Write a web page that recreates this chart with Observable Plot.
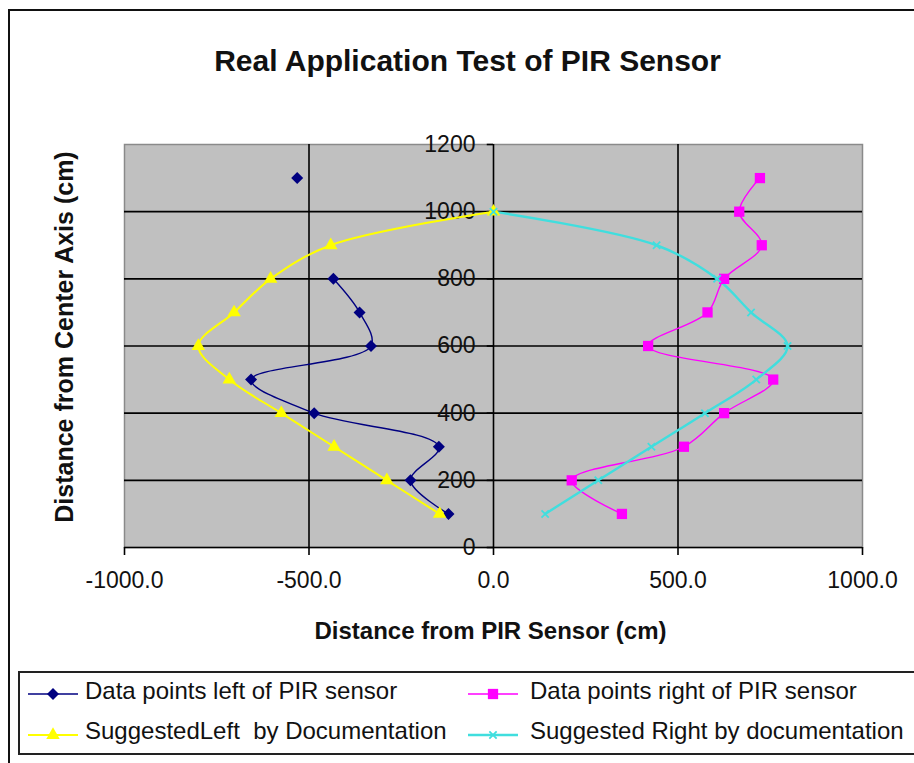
<!DOCTYPE html>
<html><head><meta charset="utf-8">
<script src="https://cdn.jsdelivr.net/npm/d3@7"></script>
<script src="https://cdn.jsdelivr.net/npm/@observablehq/plot@0.6"></script>
<style>
html,body{margin:0;padding:0;background:#fff;}
#wrap{position:relative;width:914px;height:763px;overflow:hidden;font-family:"Liberation Sans",Arial,sans-serif;}
#outer{position:absolute;left:8px;top:9px;width:940px;height:800px;border-left:2px solid #111;border-top:2px solid #111;box-sizing:border-box;}
#chart{position:absolute;left:0;top:0;}
#legend{position:absolute;left:18px;top:671px;width:940px;height:84px;border:2px solid #222;box-sizing:border-box;background:#fff;}
.lbl{position:absolute;font-size:24px;line-height:24px;color:#111;white-space:pre;}
.sw{position:absolute;overflow:visible;}
</style></head>
<body><div id="wrap"><div id="outer"></div><div id="chart"></div><div id="legend"></div></div>
<script>
const titleText = "Real Application Test of PIR Sensor";
const xTitle = "Distance from PIR Sensor (cm)";
const yTitle = "Distance from Center Axis (cm)";
const xTicks = [-1000, -500, 0, 500, 1000];
const yTicks = [0, 200, 400, 600, 800, 1000, 1200];
const xGrid = [-500, 500];
const yGrid = [200, 400, 600, 800, 1000];

const dataY = [1100, 1000, 900, 800, 700, 600, 500, 400, 300, 200, 100];
const leftPoints = [-532, null, null, -434, -363, -332, -657, -486, -148, -225, -122];
const rightPoints = [722, 666, 727, 625, 580, 419, 758, 625, 516, 212, 348];
const suggestedY = [1000, 900, 800, 700, 600, 500, 400, 300, 200, 100];
const suggestedLeft = [0, -441, -604, -703, -800, -716, -575, -432, -289, -146];
const suggestedRight = [0, 442, 606, 698, 797, 712, 573, 428, 284, 140];

const seriesNames = ["Data points left of PIR sensor", "Data points right of PIR sensor",
  "SuggestedLeft  by Documentation", "Suggested Right by documentation"];
const seriesColors = ["#000080", "#ff00ff", "#ffff00", "#40dede"];
const seriesSymbols = ["diamond2", "square", "triangle", "times"];

const toRows = (ys, xs) => ys.map((y, i) => ({y, x: xs[i]}));
const series = [
  {rows: toRows(dataY, leftPoints), lw: 1.4, r: 5.4},
  {rows: toRows(dataY, rightPoints), lw: 1.4, r: 5.8},
  {rows: toRows(suggestedY, suggestedLeft), lw: 2, r: 5.0},
  {rows: toRows(suggestedY, suggestedRight), lw: 2.4, r: 3.4}
];

const lineMarks = series.map((s, i) => Plot.line(s.rows, {
  x: d => d.x ?? NaN, y: "y", curve: "catmull-rom",
  stroke: seriesColors[i], strokeWidth: s.lw
}));
const dotMarks = series.map((s, i) => {
  const sym = seriesSymbols[i];
  const opts = {x: "x", y: "y", symbol: () => sym, r: s.r};
  if (sym === "times") { opts.stroke = seriesColors[i]; opts.strokeWidth = 1.8; opts.fill = "none"; }
  else { opts.fill = seriesColors[i]; opts.stroke = "none"; }
  return Plot.dot(s.rows.filter(d => d.x != null), opts);
});

const chart = Plot.plot({
  width: 914, height: 660,
  marginTop: 144, marginBottom: 113, marginLeft: 124, marginRight: 52,
  x: {domain: [-1000, 1000]},
  y: {domain: [0, 1200], axis: null},
  symbol: {type: "identity"},
  style: {fontFamily: "'Liberation Sans', Arial, sans-serif", color: "#111", background: "transparent", overflow: "visible"},
  marks: [
    Plot.frame({fill: "#c0c0c0", stroke: "#8a8a8a", strokeWidth: 1.5}),
    Plot.ruleY(yGrid, {stroke: "#000", strokeWidth: 1.6}),
    Plot.ruleX(xGrid, {stroke: "#000", strokeWidth: 1.6}),
    Plot.ruleX([0], {stroke: "#000", strokeWidth: 1.6}),
    Plot.ruleY([0], {stroke: "#000", strokeWidth: 1.6}),
    Plot.ruleY(yTicks, {x1: () => 0, x2: () => -17, stroke: "#000", strokeWidth: 1.6}),
    Plot.text(yTicks, {x: () => 0, y: d => d, text: d => String(d), dx: -18, textAnchor: "end", fontSize: 23, fill: "#111"}),
    Plot.axisX(xTicks, {anchor: "bottom", tickSize: 8, tickPadding: 16, tickFormat: d => d.toFixed(1), fontSize: 23, stroke: "#000", strokeWidth: 1.6, fill: "#111", label: null}),
    ...lineMarks,
    ...dotMarks,
    Plot.text([titleText], {frameAnchor: "top", dx: -26, dy: -74, lineAnchor: "bottom", textAnchor: "middle", fontSize: 30, fontWeight: "bold", fill: "#111"}),
    Plot.text([xTitle], {frameAnchor: "bottom", dx: -3, dy: 91, lineAnchor: "bottom", textAnchor: "middle", fontSize: 24, fontWeight: "bold", fill: "#111"}),
    Plot.text([yTitle], {frameAnchor: "left", dx: -52, dy: -9, rotate: -90, lineAnchor: "bottom", textAnchor: "middle", fontSize: 25, fontWeight: "bold", fill: "#111"})
  ]
});
document.getElementById("chart").appendChild(chart);

// Legend
const legend = d3.select("#legend");
const pos = [
  {sx: 8, tx: 65, ly: 21, ty: 6},
  {sx: 448, tx: 510, ly: 21, ty: 6},
  {sx: 8, tx: 65, ly: 62, ty: 46},
  {sx: 448, tx: 510, ly: 62, ty: 46}
];
const symMap = {diamond2: d3.symbolDiamond2, square: d3.symbolSquare, triangle: d3.symbolTriangle, times: d3.symbolTimes};
seriesNames.forEach((name, i) => {
  const p = pos[i];
  const svg = legend.append("svg").attr("class", "sw")
    .style("left", p.sx + "px").style("top", (p.ly - 10) + "px")
    .attr("width", 52).attr("height", 20);
  svg.append("line").attr("x1", 0).attr("x2", 50).attr("y1", 10).attr("y2", 10)
    .attr("stroke", seriesColors[i]).attr("stroke-width", series[i].lw);
  const r = series[i].r;
  const path = svg.append("path").attr("transform", "translate(25,10)")
    .attr("d", d3.symbol(symMap[seriesSymbols[i]], Math.PI * r * r)());
  if (seriesSymbols[i] === "times") path.attr("fill", "none").attr("stroke", seriesColors[i]).attr("stroke-width", 1.8);
  else path.attr("fill", seriesColors[i]);
  legend.append("div").attr("class", "lbl").style("left", p.tx + "px").style("top", p.ty + "px").text(name);
});
</script>
</body></html>
